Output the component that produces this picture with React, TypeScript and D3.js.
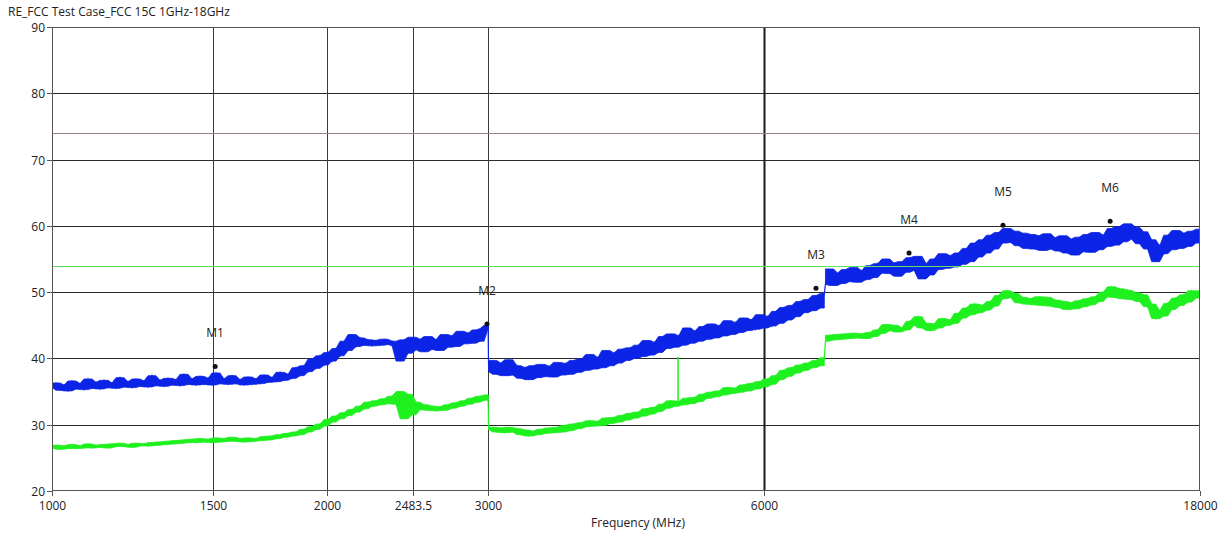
import React, { useEffect, useRef } from 'react';
import * as d3 from 'd3';

const width = 1222;
const height = 533;
const margin = { top: 27, right: 22, bottom: 42, left: 52 };

const title = 'RE_FCC Test Case_FCC 15C 1GHz-18GHz';
const xLabel = 'Frequency (MHz)';
const xTicks = [1000, 1500, 2000, 2483.5, 3000, 6000, 18000];
const yTicks = [20, 30, 40, 50, 60, 70, 80, 90];
const peakLimit = 74;
const avgLimit = 54;

// sweep segments (MHz); samples of each segment are log-spaced between start and stop
const sweepStarts = [1000, 3002, 7010];
const sweepStops = [2998, 6990, 18000];

// peak detector trace (dBuV/m), one list per sweep segment
const peakA = [
  35.6, 36.3, 35.2, 36.0, 35.1, 36.6, 35.4, 36.2, 35.3, 36.9, 35.5, 36.4, 35.4, 36.7, 35.6, 36.3,
  35.5, 37.1, 35.7, 36.5, 35.6, 36.9, 35.8, 36.6, 35.7, 37.4, 35.9, 36.7, 35.8, 37.0, 36.0, 36.8,
  35.9, 37.6, 36.1, 36.9, 36.0, 37.3, 36.1, 37.0, 36.0, 37.8, 36.2, 36.9, 36.1, 37.4, 36.2, 36.8,
  36.0, 37.2, 36.1, 36.9, 36.2, 37.5, 36.4, 37.1, 36.5, 37.9, 36.7, 37.6, 37.0, 38.6, 37.4, 38.9,
  38.0, 39.9, 38.5, 40.4, 39.0, 40.9, 39.6, 41.5, 40.4, 42.6, 41.2, 43.6, 41.8, 43.1, 42.0, 42.8,
  41.9, 42.7, 42.0, 42.9, 42.1, 42.6, 41.9, 39.6, 42.8, 40.8, 43.2, 41.3, 42.9, 41.0, 43.3, 41.4,
  42.8, 41.2, 43.6, 41.7, 43.4, 41.8, 44.1, 42.2, 43.8, 42.3, 44.3, 42.6, 44.5, 45.0,
];
const peakB = [
  38.0, 39.7, 37.6, 39.3, 37.4, 39.8, 37.5, 38.9, 37.0, 38.6, 36.8, 38.9, 37.1, 39.1, 37.3, 38.8,
  37.2, 39.4, 37.5, 39.2, 37.6, 39.7, 37.9, 39.9, 38.2, 40.6, 38.4, 40.1, 38.6, 41.2, 38.9, 40.8,
  39.3, 41.4, 39.7, 41.6, 40.0, 42.0, 40.3, 42.7, 40.5, 42.4, 40.9, 43.3, 41.5, 43.7, 41.7, 43.4,
  42.0, 44.6, 42.3, 44.1, 42.6, 44.8, 42.9, 45.2, 43.1, 44.9, 43.4, 45.7, 43.6, 45.4, 43.9, 46.1,
  44.2, 45.8, 44.4, 46.6, 44.6, 46.3, 44.9, 47.1, 45.3, 47.7, 45.8, 48.0, 46.3, 48.6, 46.9, 48.9,
  47.2, 49.5, 47.6, 49.8,
];
const peakC = [
  51.2, 53.5, 51.0, 52.9, 51.3, 53.4, 51.6, 53.7, 51.5, 53.2, 51.9, 54.0, 52.2, 54.3, 52.9, 55.0,
  52.8, 54.4, 52.4, 54.6, 53.0, 55.2, 53.3, 55.4, 52.0, 54.3, 52.6, 55.0, 53.4, 55.8, 53.6, 55.5,
  53.8, 55.9, 54.2, 56.6, 54.6, 57.4, 55.3, 57.9, 55.9, 58.6, 56.5, 59.0, 57.4, 59.6, 57.5, 59.2,
  57.0, 58.9, 56.6, 58.7, 56.5, 58.5, 56.3, 58.8, 56.5, 58.2, 56.2, 58.5, 55.9, 58.0, 55.6, 58.3,
  56.1, 58.7, 56.0, 59.0, 56.4, 58.6, 56.9, 59.6, 57.1, 59.9, 57.6, 60.3, 58.0, 59.8, 57.3, 59.1,
  56.5, 57.9, 54.6, 57.0, 55.8, 58.6, 56.4, 59.3, 56.6, 58.9, 56.9, 59.2, 57.4, 59.5,
];

// average detector trace (dBuV/m), one list per sweep segment
const avgA = [
  26.5, 26.9, 26.3, 26.8, 26.4, 27.0, 26.4, 26.8, 26.5, 27.1, 26.5, 26.9, 26.6, 27.0, 26.5, 27.1,
  26.7, 27.2, 26.7, 27.0, 26.6, 27.2, 26.8, 27.1, 26.8, 27.3, 26.9, 27.4, 27.0, 27.5, 27.1, 27.6,
  27.2, 27.7, 27.3, 27.8, 27.3, 27.9, 27.4, 27.8, 27.3, 28.0, 27.4, 27.9, 27.5, 28.1, 27.5, 27.9,
  27.4, 28.0, 27.5, 27.9, 27.6, 28.2, 27.7, 28.3, 27.9, 28.5, 28.1, 28.7, 28.3, 28.9, 28.5, 29.3,
  28.9, 29.7, 29.3, 30.1, 29.8, 30.8, 30.4, 31.3, 30.9, 31.8, 31.4, 32.3, 31.9, 32.8, 32.4, 33.4,
  32.8, 33.6, 33.0, 33.9, 33.2, 34.3, 33.1, 35.0, 30.9, 34.6, 31.5, 33.4, 32.3, 33.0, 32.2, 32.8,
  32.1, 32.7, 32.2, 33.0, 32.5, 33.3, 32.8, 33.6, 33.1, 34.0, 33.4, 34.3, 33.7, 34.5,
];
const avgB = [
  29.3, 29.6, 28.9, 29.5, 28.8, 29.6, 28.9, 29.4, 28.5, 29.2, 28.3, 29.0, 28.5, 29.3, 28.7, 29.5,
  28.8, 29.6, 28.9, 29.9, 29.1, 30.1, 29.4, 30.3, 29.7, 30.6, 29.8, 30.5, 29.9, 31.0, 30.2, 31.1,
  30.4, 31.4, 30.7, 31.7, 31.0, 31.9, 31.3, 32.4, 31.6, 32.6, 32.0, 33.1, 32.5, 33.6, 32.8, 33.5,
  33.0, 34.0, 33.2, 34.1, 33.5, 34.6, 34.0, 34.9, 34.2, 35.1, 34.5, 35.6, 34.7, 35.5, 34.9, 36.0,
  35.1, 36.2, 35.4, 36.5, 35.7, 36.9, 36.1, 37.4, 36.8, 38.2, 37.3, 38.6, 37.8, 39.0, 38.2, 39.3,
  38.6, 39.7, 38.9, 40.1,
];
const avgC = [
  42.6, 43.5, 42.8, 43.6, 42.9, 43.7, 43.0, 43.8, 43.1, 43.7, 43.0, 43.9, 43.3, 44.3, 43.8, 45.1,
  44.2, 45.0, 44.0, 44.6, 44.3, 45.6, 45.0, 46.3, 44.6, 45.3, 44.2, 45.2, 44.6, 46.0, 45.0, 45.8,
  45.3, 46.8, 46.1, 47.6, 46.6, 48.2, 46.9, 48.0, 47.3, 48.6, 47.9, 49.5, 49.0, 50.2, 49.2, 49.8,
  48.4, 49.2, 48.2, 49.0, 48.1, 49.3, 48.0, 49.2, 47.9, 48.8, 47.7, 48.6, 47.4, 48.4, 47.5, 48.7,
  47.8, 49.0, 48.1, 49.3, 48.6, 50.0, 49.3, 50.8, 49.2, 50.5, 49.0, 50.3, 48.9, 49.9, 48.6, 49.6,
  47.8, 48.2, 46.0, 47.2, 46.4, 48.3, 47.4, 49.1, 48.0, 49.6, 48.5, 50.2, 49.1, 50.2,
];

// narrow spike on the average trace: [MHz, from dB, to dB]
const avgSpike = [4837, 33.3, 40.2];

const markerNames = ['M1', 'M2', 'M3', 'M4', 'M5', 'M6'];
const markerFreqs = [1508, 2990, 6845, 8652, 10961, 14355];
const markerLevels = [38.8, 45.2, 50.6, 55.9, 60.1, 60.7];

const font = '"Open Sans", "Noto Sans", sans-serif';

type Pt = [number, number];
type Band = [number, number, number];

// place the samples of one sweep segment on their frequencies
const toPoints = (vals: number[], s: number): Pt[] => {
  const lf = d3
    .scaleLinear()
    .domain([0, vals.length - 1])
    .range([Math.log10(sweepStarts[s]), Math.log10(sweepStops[s])]);
  return vals.map((v, i) => [Math.pow(10, lf(i)), v] as Pt);
};

// local min/max around each sample, so the dense sweep reads as a solid band
const toBand = (pts: Pt[]): Band[] =>
  pts.map((p, i) => {
    const nb = pts.slice(Math.max(0, i - 1), Math.min(pts.length, i + 2)).map((q) => q[1]);
    return [p[0], d3.min(nb) as number, d3.max(nb) as number];
  });

const App: React.FC = () => {
  const ref = useRef<SVGSVGElement | null>(null);

  useEffect(() => {
    if (!ref.current) return;
    const svg = d3.select(ref.current);
    svg.selectAll('*').remove();

    const innerW = width - margin.left - margin.right;
    const innerH = height - margin.top - margin.bottom;

    const x = d3.scaleLog().domain([1000, 18000]).range([0, innerW]);
    const y = d3.scaleLinear().domain([20, 90]).range([innerH, 0]);

    svg
      .append('rect')
      .attr('width', width)
      .attr('height', height)
      .attr('fill', '#ffffff');

    svg
      .append('text')
      .attr('x', 8)
      .attr('y', 16)
      .attr('font-family', font)
      .attr('font-size', 12)
      .attr('fill', '#222')
      .text(title);

    const g = svg
      .append('g')
      .attr('transform', `translate(${margin.left},${margin.top})`);

    g.append('defs')
      .append('clipPath')
      .attr('id', 'plot-clip')
      .append('rect')
      .attr('width', innerW)
      .attr('height', innerH);

    // horizontal grid
    g.selectAll('.h-grid')
      .data(yTicks.filter((t) => t > 20 && t < 90))
      .enter()
      .append('line')
      .attr('class', 'h-grid')
      .attr('x1', 0)
      .attr('x2', innerW)
      .attr('y1', (d) => Math.round(y(d)) + 0.5)
      .attr('y2', (d) => Math.round(y(d)) + 0.5)
      .attr('stroke', '#2a2a2a')
      .attr('stroke-width', 1);

    // vertical grid
    g.selectAll('.v-grid')
      .data(xTicks.filter((t) => t > 1000 && t < 18000))
      .enter()
      .append('line')
      .attr('class', 'v-grid')
      .attr('x1', (d) => Math.round(x(d)) + 0.5)
      .attr('x2', (d) => Math.round(x(d)) + 0.5)
      .attr('y1', 0)
      .attr('y2', innerH)
      .attr('stroke', (d) => (d === 6000 ? '#1a1a1a' : '#3a3a3a'))
      .attr('stroke-width', (d) => (d === 6000 ? 2 : 1));

    g.append('line')
      .attr('x1', 0)
      .attr('x2', innerW)
      .attr('y1', Math.round(y(peakLimit)) + 0.5)
      .attr('y2', Math.round(y(peakLimit)) + 0.5)
      .attr('stroke', '#9a7d7d')
      .attr('stroke-width', 1);

    const plot = g.append('g').attr('clip-path', 'url(#plot-clip)');

    const line = d3
      .line<Pt>()
      .x((d) => x(d[0]))
      .y((d) => y(d[1]));

    const area = d3
      .area<Band>()
      .x((d) => x(d[0]))
      .y0((d) => y(d[1]))
      .y1((d) => y(d[2]));

    const drawTrace = (segs: number[][], color: string) => {
      const parts = segs.map((vals, s) => toPoints(vals, s));
      parts.forEach((pts) => {
        plot
          .append('path')
          .datum(toBand(pts))
          .attr('d', area)
          .attr('fill', color)
          .attr('stroke', color)
          .attr('stroke-width', 0.8);
      });
      plot
        .append('path')
        .datum(parts.flat())
        .attr('d', line)
        .attr('fill', 'none')
        .attr('stroke', color)
        .attr('stroke-width', 1.2)
        .attr('stroke-linejoin', 'miter')
        .attr('stroke-miterlimit', 3);
    };

    drawTrace([avgA, avgB, avgC], '#1ff01f');

    plot
      .append('line')
      .attr('x1', x(avgSpike[0]))
      .attr('x2', x(avgSpike[0]))
      .attr('y1', y(avgSpike[1]))
      .attr('y2', y(avgSpike[2]))
      .attr('stroke', '#1ff01f')
      .attr('stroke-width', 1.5);

    drawTrace([peakA, peakB, peakC], '#0b24e6');

    g.append('line')
      .attr('x1', 0)
      .attr('x2', innerW)
      .attr('y1', Math.round(y(avgLimit)) + 0.5)
      .attr('y2', Math.round(y(avgLimit)) + 0.5)
      .attr('stroke', '#5fe25f')
      .attr('stroke-width', 1);

    // markers
    markerNames.forEach((name, i) => {
      const mx = x(markerFreqs[i]);
      const my = y(markerLevels[i]);
      g.append('circle')
        .attr('cx', mx)
        .attr('cy', my)
        .attr('r', 2.5)
        .attr('fill', '#111');
      g.append('text')
        .attr('x', mx)
        .attr('y', my - 29)
        .attr('text-anchor', 'middle')
        .attr('font-family', font)
        .attr('font-size', 12)
        .attr('fill', '#222')
        .text(name);
    });

    // frame
    g.append('rect')
      .attr('x', 0.5)
      .attr('y', 0.5)
      .attr('width', innerW - 1)
      .attr('height', innerH - 1)
      .attr('fill', 'none')
      .attr('stroke', '#555')
      .attr('stroke-width', 1);

    // y axis
    const yAxis = g.append('g');
    yTicks.forEach((t) => {
      const ty = Math.round(y(t)) + 0.5;
      yAxis
        .append('line')
        .attr('x1', -5)
        .attr('x2', 0)
        .attr('y1', ty)
        .attr('y2', ty)
        .attr('stroke', '#555');
      yAxis
        .append('text')
        .attr('x', -7)
        .attr('y', ty)
        .attr('dy', '0.35em')
        .attr('text-anchor', 'end')
        .attr('font-family', font)
        .attr('font-size', 12)
        .attr('fill', '#222')
        .text(t);
    });

    // x axis
    const xAxis = g.append('g').attr('transform', `translate(0,${innerH})`);
    xTicks.forEach((t) => {
      const tx = Math.round(x(t)) + 0.5;
      xAxis
        .append('line')
        .attr('x1', tx)
        .attr('x2', tx)
        .attr('y1', 0)
        .attr('y2', 5)
        .attr('stroke', '#555');
      xAxis
        .append('text')
        .attr('x', tx)
        .attr('y', 19)
        .attr('text-anchor', 'middle')
        .attr('font-family', font)
        .attr('font-size', 12)
        .attr('fill', '#222')
        .text(t);
    });

    svg
      .append('text')
      .attr('x', 638)
      .attr('y', 527)
      .attr('text-anchor', 'middle')
      .attr('font-family', font)
      .attr('font-size', 12)
      .attr('fill', '#222')
      .text(xLabel);
  }, []);

  return (
    <svg
      ref={ref}
      width={width}
      height={height}
      style={{ position: 'absolute', left: 0, top: 0, display: 'block' }}
    />
  );
};

export default App;
